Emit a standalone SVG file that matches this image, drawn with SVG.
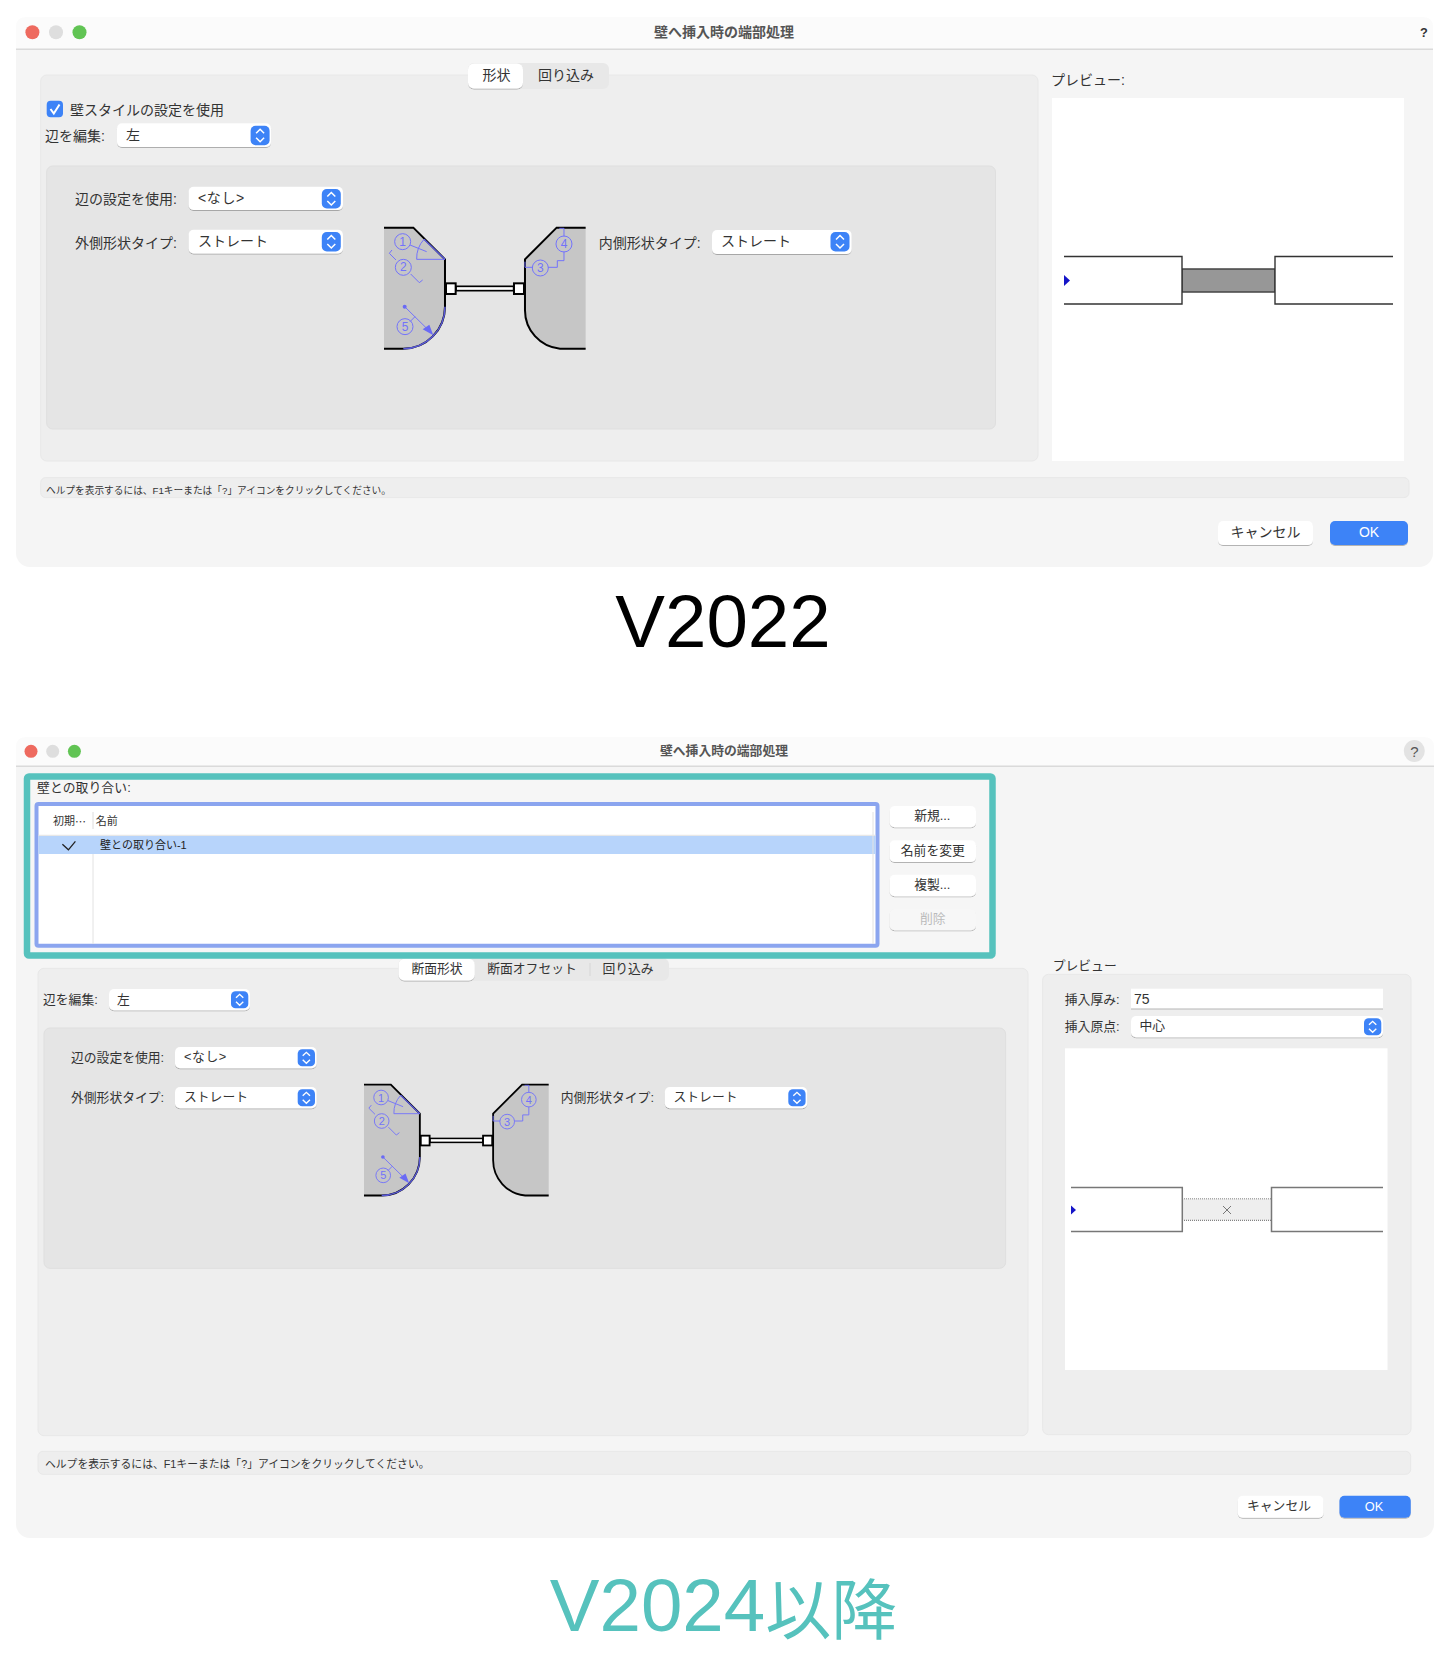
<svg xmlns="http://www.w3.org/2000/svg" width="1450" height="1664" viewBox="0 0 1450 1664">
<style>
text{font-family:"Liberation Sans","Noto Sans CJK JP",sans-serif;fill:#333;dominant-baseline:central}
.win{fill:#f5f5f5}.tb{fill:#fbfbfb}.tl{stroke:#dadada;stroke-width:1.5;fill:none}
.p1{fill:#eeeeee;stroke:#e8e8e8}.p2{fill:#e5e5e5;stroke:#dfdfdf}
.w{fill:#fff}.btn{fill:#fff;filter:url(#sh)}
.t14{font-size:14px}.t13{font-size:12.8px}.t11{font-size:11px}
.tt{font-weight:bold;fill:#555;text-anchor:middle}
.c{text-anchor:middle}
.ok{fill:#3d83f7;filter:url(#sh)}.okt{fill:#fff;text-anchor:middle}
.open{fill:none;stroke:#777;stroke-width:1.5}
.shp{fill:#c6c6c6}.blk{fill:none;stroke:#000;stroke-width:6}
.bl{fill:none;stroke:#7272fb;stroke-width:3}.bl2{fill:none;stroke:#5a5ad8;stroke-width:4.5}
.d{font-size:36px;fill:#7272fb;text-anchor:middle}.blf{fill:#6a6af5}
.big{font-size:74.5px;text-anchor:middle}
.cjk{font-size:66px;font-family:"Noto Sans CJK JP",sans-serif}
.sp{letter-spacing:.6px}
</style>
<defs>
<filter id="sh" x="-10%" y="-20%" width="120%" height="150%"><feDropShadow dx="0" dy="0.9" stdDeviation="0.7" flood-color="#000" flood-opacity="0.3"/></filter>
<g id="stp"><rect width="19" height="19.5" rx="5" fill="#3d83f7"/><path d="M5.5 7.5L9.5 3.5L13.5 7.5M5.5 12L9.5 16L13.5 12" fill="none" stroke="#fff" stroke-width="1.5"/></g>
</defs>
<rect width="1450" height="1664" fill="#fff"/>

<g id="dialog-v2022">
<rect class="win" x="16" y="17" width="1417" height="550" rx="14"/>
<path class="tb" d="M16 49V27Q16 17 26 17H1423Q1433 17 1433 27V49Z"/>
<path class="tl" d="M16 49.3H1433"/>
<circle cx="32.4" cy="32.3" r="7" fill="#ee6a5f"/><circle cx="56" cy="32.3" r="7" fill="#dedede"/><circle cx="79.5" cy="32.3" r="7" fill="#61c454"/>
<text class="t14 tt" x="724" y="31.5">壁へ挿入時の端部処理</text>
<text class="t13" x="1424" y="32.5" text-anchor="middle" style="font-weight:bold">?</text>
<rect class="p1" x="40.7" y="75" width="997.3" height="386" rx="6"/>
<rect x="468" y="63" width="141" height="26" rx="6" fill="#e8e8e8"/>
<rect class="btn" x="468" y="63.5" width="55" height="25" rx="6"/>
<text class="t14 c" x="496.5" y="75">形状</text><text class="t14 c" x="566" y="75">回り込み</text>
<rect x="46.7" y="100.7" width="16.3" height="16.5" rx="4" fill="#3d83f7"/>
<path d="M50.5 109L53.8 113.5L59.5 104.5" fill="none" stroke="#fff" stroke-width="2"/>
<text class="t14" x="70" y="109.5">壁スタイルの設定を使用</text>
<text class="t14" x="45" y="136">辺を編集:</text>
<rect class="btn" x="117" y="123.3" width="154" height="23.7" rx="5"/><text class="t14" x="126" y="135">左</text>
<use href="#stp" x="250.6" y="125.7"/>
<rect class="p2" x="46.7" y="166" width="948.8" height="263" rx="6"/>
<text class="t14" x="75" y="199">辺の設定を使用:</text>
<rect class="btn" x="188.6" y="186.7" width="154.4" height="23.3" rx="5"/><text class="t14 sp" x="198" y="198">&lt;なし&gt;</text>
<use href="#stp" x="321.8" y="189"/>
<text class="t14" x="75" y="242.5">外側形状タイプ:</text>
<rect class="btn" x="188.6" y="229.7" width="154.4" height="23.7" rx="5"/><text class="t14" x="198" y="240.7">ストレート</text>
<use href="#stp" x="321.8" y="232"/>
<text class="t14" x="598.7" y="242.5">内側形状タイプ:</text>
<rect class="btn" x="712" y="230" width="139.7" height="24" rx="5"/><text class="t14" x="721" y="240.7">ストレート</text>
<use href="#stp" x="830.5" y="232"/>
<g id="shape-v2022" transform="translate(360 210) scale(.3333)">
<path class="shp" d="M72 53H160L255 148V290A125 126 0 0 1 130 416H72Z"/>
<path class="shp" d="M677 53H590L495 148V300A116 116 0 0 0 600 416H677Z"/>
<path class="blk" d="M72 53H160L255 148V290A125 126 0 0 1 130 416H72"/>
<path class="blk" d="M677 53H590L495 148V300A116 116 0 0 0 600 416H677"/>
<rect x="288" y="229" width="173" height="13" fill="#fff" stroke="#000" stroke-width="5"/>
<rect x="258" y="220" width="29" height="32" fill="#fff" stroke="#000" stroke-width="6"/>
<rect x="462" y="220" width="30" height="32" fill="#fff" stroke="#000" stroke-width="6"/>
<path class="bl2" d="M192 88L255 148M255 290A125 126 0 0 1 130 416"/>
<path class="bl" d="M255 148H170A85 85 0 0 1 192 88M150 105L200 125M96 120L88 130L108 150M152 192L178 218L188 210M134 290L200 355M150 335L165 320M495 155V172H518M564 172H592V152H612V125M612 79V55H598"/>
<circle class="blf" cx="134" cy="290" r="6"/><polygon class="blf" points="220,376 188,358 208,344"/>
<circle class="bl" cx="128" cy="95" r="24"/><circle class="bl" cx="130" cy="172" r="24"/><circle class="bl" cx="135" cy="350" r="24"/><circle class="bl" cx="541" cy="174" r="24"/><circle class="bl" cx="612" cy="102" r="24"/>
<text class="d" x="128" y="95">1</text><text class="d" x="130" y="172">2</text><text class="d" x="135" y="350">5</text><text class="d" x="541" y="174">3</text><text class="d" x="612" y="102">4</text>
</g>
<text class="t14" x="1051" y="80">プレビュー:</text>
<rect class="w" x="1052" y="98" width="352" height="363"/>
<rect x="1182" y="269" width="93" height="23" fill="#979797" stroke="#444" stroke-width="1.5"/>
<path d="M1064 256.5H1182V304H1064M1393 256.5H1275V304H1393" fill="#fff" stroke="#333" stroke-width="1.4"/>
<polygon points="1064,275 1070,280.5 1064,286" fill="#1515c8"/>
<rect x="40.7" y="477.6" width="1368.3" height="20" rx="5" class="p1"/>
<text x="46" y="490.5" style="font-size:9.7px">ヘルプを表示するには、F1キーまたは「?」アイコンをクリックしてください。</text>
<rect class="btn" x="1218" y="521" width="95" height="24" rx="5"/><text class="t14 c" x="1265.5" y="531.5">キャンセル</text>
<rect class="ok" x="1330" y="521" width="78" height="24" rx="5"/><text class="t14 okt" x="1369" y="532" style="fill:#fff">OK</text>
</g>
<text id="label-v2022" class="big" x="723" y="621" style="fill:#000">V2022</text>

<g id="dialog-v2024">
<rect class="win" x="16" y="737" width="1418" height="801" rx="14"/>
<path class="tb" d="M16 766V747Q16 737 26 737H1424Q1434 737 1434 747V766Z"/>
<path class="tl" d="M16 766.3H1434"/>
<circle cx="31" cy="751.3" r="6.5" fill="#ee6a5f"/><circle cx="52.7" cy="751.3" r="6.5" fill="#dedede"/><circle cx="74.4" cy="751.3" r="6.5" fill="#61c454"/>
<text class="t13 tt" x="724" y="750.7">壁へ挿入時の端部処理</text>
<ellipse cx="1414.3" cy="751" rx="10.5" ry="11" fill="#e3e3e3"/><text class="c" x="1414.3" y="751" style="fill:#555;font-size:15px">?</text>
<rect class="p1" x="38" y="968.3" width="990" height="467.4" rx="6"/>
<rect x="398.5" y="958.3" width="270.5" height="22.4" rx="6" fill="#e8e8e8"/>
<rect class="btn" x="398.5" y="958.8" width="76.3" height="21.7" rx="6"/>
<text class="t13 c" x="437" y="968">断面形状</text><text class="t13 c" x="532" y="968">断面オフセット</text><text class="t13 c" x="628" y="968">回り込み</text>
<path d="M590 963V976" stroke="#d6d6d6"/>
<text class="t13" x="43" y="999.8">辺を編集:</text>
<rect class="btn" x="109" y="989" width="141" height="21.3" rx="5"/><text class="t13" x="117" y="999">左</text>
<use href="#stp" transform="translate(231 991.3) scale(.91 .87)"/>
<rect class="p2" x="44" y="1028" width="961.6" height="240.3" rx="6"/>
<text class="t13" x="71" y="1057.8">辺の設定を使用:</text>
<rect class="btn" x="175" y="1047" width="141.7" height="21.3" rx="5"/><text class="t13 sp" x="184" y="1056.5">&lt;なし&gt;</text>
<use href="#stp" transform="translate(297.7 1049.3) scale(.91 .87)"/>
<text class="t13" x="71" y="1097.3">外側形状タイプ:</text>
<rect class="btn" x="175" y="1087" width="141.7" height="21.3" rx="5"/><text class="t13" x="184" y="1096.3">ストレート</text>
<use href="#stp" transform="translate(297.7 1089.3) scale(.91 .87)"/>
<text class="t13" x="560.8" y="1097.3">内側形状タイプ:</text>
<rect class="btn" x="664.8" y="1087" width="142.5" height="21.3" rx="5"/><text class="t13" x="673.5" y="1096.3">ストレート</text>
<use href="#stp" transform="translate(788.3 1089.3) scale(.91 .87)"/>
<g id="shape-v2024" transform="translate(342 1068.5) scale(.3053)">
<path class="shp" d="M72 53H160L255 148V290A125 126 0 0 1 130 416H72Z"/>
<path class="shp" d="M677 53H590L495 148V300A116 116 0 0 0 600 416H677Z"/>
<path class="blk" d="M72 53H160L255 148V290A125 126 0 0 1 130 416H72"/>
<path class="blk" d="M677 53H590L495 148V300A116 116 0 0 0 600 416H677"/>
<rect x="288" y="229" width="173" height="13" fill="#fff" stroke="#000" stroke-width="5"/>
<rect x="258" y="220" width="29" height="32" fill="#fff" stroke="#000" stroke-width="6"/>
<rect x="462" y="220" width="30" height="32" fill="#fff" stroke="#000" stroke-width="6"/>
<path class="bl2" d="M192 88L255 148M255 290A125 126 0 0 1 130 416"/>
<path class="bl" d="M255 148H170A85 85 0 0 1 192 88M150 105L200 125M96 120L88 130L108 150M152 192L178 218L188 210M134 290L200 355M150 335L165 320M495 155V172H518M564 172H592V152H612V125M612 79V55H598"/>
<circle class="blf" cx="134" cy="290" r="6"/><polygon class="blf" points="220,376 188,358 208,344"/>
<circle class="bl" cx="128" cy="95" r="24"/><circle class="bl" cx="130" cy="172" r="24"/><circle class="bl" cx="135" cy="350" r="24"/><circle class="bl" cx="541" cy="174" r="24"/><circle class="bl" cx="612" cy="102" r="24"/>
<text class="d" x="128" y="95">1</text><text class="d" x="130" y="172">2</text><text class="d" x="135" y="350">5</text><text class="d" x="541" y="174">3</text><text class="d" x="612" y="102">4</text>
</g>
<text class="t13" x="1052.7" y="965.8">プレビュー</text>
<rect class="p1" x="1042.6" y="974.3" width="368.4" height="460.4" rx="6"/>
<text class="t13" x="1064.8" y="999.5">挿入厚み:</text>
<rect class="w" x="1131" y="988.7" width="252" height="20.3"/><path d="M1131 1009H1383" stroke="#b5b5b5"/>
<text class="t14" x="1134" y="999">75</text>
<text class="t13" x="1064.8" y="1026.6">挿入原点:</text>
<rect class="btn" x="1131" y="1016" width="252" height="21.3" rx="5"/><text class="t13" x="1139.5" y="1025.3">中心</text>
<use href="#stp" transform="translate(1364 1018.3) scale(.91 .87)"/>
<rect class="w" x="1065" y="1048.3" width="322.5" height="321.7"/>
<rect x="1182" y="1198.7" width="89.5" height="21.6" fill="#eee"/>
<path d="M1182 1198.7H1271.5" stroke="#aaa" stroke-width="1.5" stroke-dasharray="1 1"/>
<path d="M1182 1220.3H1271.5" stroke="#666" stroke-dasharray="1 1"/>
<path class="open" d="M1071 1187.5H1182.3V1231.5H1071M1383 1187.5H1271.5V1231.5H1383"/>
<path d="M1223 1206L1231 1214M1231 1206L1223 1214" stroke="#777" fill="none"/>
<polygon points="1071,1205.5 1076,1210 1071,1214.5" fill="#1515c8"/>
<rect class="p1" x="38" y="1451.3" width="1372.7" height="23" rx="5"/>
<text x="45" y="1463.5" style="font-size:10.8px">ヘルプを表示するには、F1キーまたは「?」アイコンをクリックしてください。</text>
<rect class="btn" x="1237.7" y="1495.7" width="86" height="22" rx="5"/><text class="t13 c" x="1279" y="1505.7">キャンセル</text>
<rect class="ok" x="1339.5" y="1495.7" width="71.2" height="22" rx="5"/><text class="t13 okt" x="1374" y="1506" style="fill:#fff">OK</text>
</g>

<g id="highlight-v2024">
<rect x="27" y="776.5" width="965.5" height="179" rx="2" fill="#f6f6f6" stroke="#56c2bd" stroke-width="6.5"/>
<text class="t13" x="37" y="787.6" style="letter-spacing:.1px">壁との取り合い:</text>
<rect x="36.5" y="804" width="841" height="141.7" rx="2" fill="#fff" stroke="#8ba5ef" stroke-width="4"/>
<rect x="38.5" y="836" width="837" height="18" fill="#b7d4fb"/>
<path d="M38.5 835.3H875.5M93 854V944M873 812V835M873 836V944" stroke="#e2e2e2" stroke-width="1" fill="none"/>
<path d="M93 812V829" stroke="#dcdcdc"/>
<text class="t11" x="53" y="821.3">初期<tspan style="font-family:'Noto Sans CJK JP',sans-serif">…</tspan></text><text class="t11" x="95.7" y="821.3">名前</text>
<path d="M62.4 844.3L68.4 849.8L75.4 841.3" fill="none" stroke="#222" stroke-width="1.3"/>
<text class="t11" x="100" y="845" style="fill:#222">壁との取り合い-1</text>
<rect class="btn" x="889.6" y="806" width="86.4" height="21.3" rx="5"/><text class="t13 c" x="932.3" y="815.8">新規...</text>
<rect class="btn" x="889.6" y="840.3" width="86.4" height="21.7" rx="5"/><text class="t13 c" x="932.8" y="850.2">名前を変更</text>
<rect class="btn" x="889.6" y="874.7" width="86.4" height="21.6" rx="5"/><text class="t13 c" x="932.3" y="884.2">複製...</text>
<rect class="btn" x="889.6" y="909" width="86.4" height="21.3" rx="5" style="fill:#f7f7f7"/><text class="t13 c" x="932.8" y="918.8" style="fill:#bbb">削除</text>
</g>
<text id="label-v2024" class="big" x="723.5" y="1605" style="fill:#56c2bd">V2024<tspan class="cjk" style="fill:#56c2bd">以降</tspan></text>
</svg>
